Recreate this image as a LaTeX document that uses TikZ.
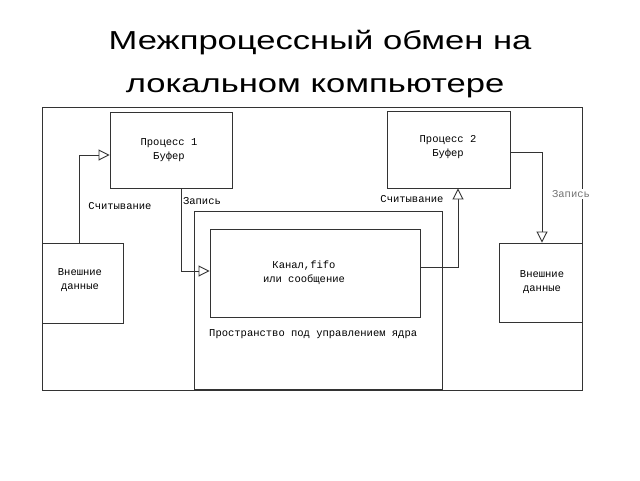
\documentclass[tikz,border=0pt]{standalone}
\usepackage{fontspec}
\setmainfont{Liberation Sans}
\newfontfamily\boxfont{Liberation Mono}
\usepackage{tikz}
\usetikzlibrary{arrows.meta}
\usetikzlibrary{positioning}
\newcommand{\ttl}[1]{\scalebox{1.33}[1]{#1}}

\begin{document}
\begin{tikzpicture}[x=1pt,y=-1pt,
		box/.style={rectangle,draw=black!80,line width=0.9pt,inner sep=0pt,fill=white},
		txt/.style={font=\boxfont\fontsize{10.5}{14}\selectfont,align=center,inner sep=1pt},
		flow/.style={draw=black!80,line width=0.9pt,-{Triangle[open,length=11pt,width=11pt,fill=white]}},
		title/.style={font=\fontsize{26}{30}\selectfont,anchor=base}]
		\useasboundingbox (0,0) rectangle (640,480);
		\node (title1) at (320,49) [title] {\ttl{Межпроцессный обмен на}};
		\node (title2) at (315,92) [title] {\ttl{локальном компьютере}};
		
		\node[box, minimum width=540pt, minimum height=283pt] (frame) at (312,248.5) {};
		\node[box, minimum width=248pt, minimum height=178pt] (kern) at (318,300) {};
		\node[box, minimum width=210pt, minimum height=88pt]  (chan) at (315,273) {};
		\node[box, minimum width=122pt, minimum height=76pt]  (proc1) at (171,150) {};
		\node[box, minimum width=123pt, minimum height=77pt]  (proc2) at (448.5,149.5) {};
		\node[box, minimum width=81pt, minimum height=80pt]   (extL) at (82.5,283) {};
		\node[box, minimum width=83pt, minimum height=79pt]   (extR) at (540.5,282.5) {};
		
		\node[txt] (proc1lbl) at (169,150) {Процесс 1\\Буфер};
		\node[txt] (proc2lbl) at (448,147) {Процесс 2\\Буфер};
		\node[txt] (chanlbl)  at (304,273) {Канал,fifo\\ или сообщение};
		\node[txt] (extLlbl)  at (80,280)  {Внешние\\данные};
		\node[txt] (extRlbl)  at (542,282) {Внешние\\данные};
		\node[txt, anchor=west] (kernlbl) at (208,334) {Пространство под управлением ядра};
		
		\draw[flow] ([xshift=-3.5pt]extL.north) |- ([yshift=-5pt]proc1.west);
		\draw[flow] ([xshift=10pt]proc1.south) |- ([yshift=2pt]chan.west);
		\draw[flow] ([yshift=6pt]chan.east) -| ([xshift=9.5pt]proc2.south);
		\draw[flow] ([yshift=-2.5pt]proc2.east) -| ([xshift=1.5pt]extR.north);
		
		\node[txt] (read1)  at (120,206) {Считывание};
		\node[txt] (write1) at (202,201) {Запись};
		\node[txt] (read2)  at (412,199) {Считывание};
		\node[txt, text=black!55, fill=white] (write2) at (571,194) {Запись};
		\end{tikzpicture}
\end{document}
